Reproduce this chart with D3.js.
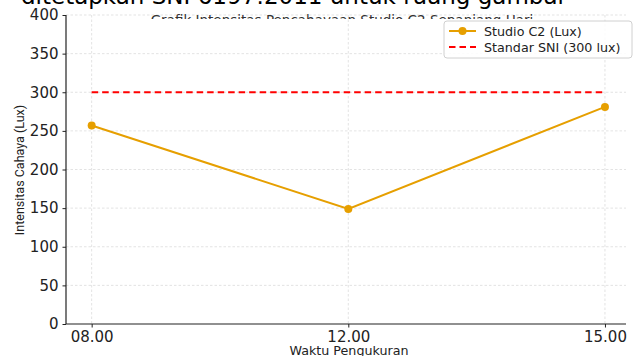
<!DOCTYPE html>
<html>
<head>
<meta charset="utf-8">
<script src="https://cdn.jsdelivr.net/npm/d3@7"></script>
<style>
  body { margin: 0; background: #fff; }
  svg { display: block; font-family: "DejaVu Sans", sans-serif; }
</style>
</head>
<body>
<svg width="640" height="356"></svg>
<script>
// data
const times = ['08.00', '12.00', '15.00'];
const luxValues = [257, 149, 281];
const sniStandard = 300;
const yTicks = [0, 50, 100, 150, 200, 250, 300, 350, 400];
const legendLabels = ['Studio C2 (Lux)', 'Standar SNI (300 lux)'];

const orange = '#e69f00';
const svg = d3.select('svg');

const x = d3.scaleLinear().domain([-0.1, 2.082]).range([66, 626]);
const y = d3.scaleLinear().domain([0, 400]).range([324, 15]);

// grid
const grid = svg.append('g').attr('stroke', '#dcdcdc').attr('stroke-width', 0.8)
  .attr('stroke-dasharray', '2.5,2');
grid.selectAll('.hg').data(yTicks.slice(1)).enter().append('line')
  .attr('x1', 66).attr('x2', 626)
  .attr('y1', d => y(d)).attr('y2', d => y(d));
grid.selectAll('.vg').data(times).enter().append('line')
  .attr('x1', (d, i) => x(i)).attr('x2', (d, i) => x(i))
  .attr('y1', 15).attr('y2', 324);

// axes
const yAxis = svg.append('g').attr('transform', 'translate(66,0)')
  .call(d3.axisLeft(y).tickValues(yTicks).tickSize(3.5).tickPadding(4));
const xAxis = svg.append('g').attr('transform', 'translate(0,324)')
  .call(d3.axisBottom(x).tickValues([0, 1, 2]).tickFormat(i => times[i]).tickSize(3.5).tickPadding(4));
[yAxis, xAxis].forEach(a => {
  a.selectAll('text').attr('font-size', 15).attr('fill', '#222')
    .attr('font-family', '"DejaVu Sans", sans-serif');
  a.select('.domain').attr('stroke', '#222').attr('stroke-width', 1.2);
  a.selectAll('.tick line').attr('stroke', '#222');
});
// matplotlib-style spine: only left + bottom, no outer tick ends
yAxis.select('.domain').attr('d', 'M0,15V324');
xAxis.select('.domain').attr('d', 'M66,0H626');

// SNI reference line
svg.append('line')
  .attr('x1', x(0)).attr('x2', x(2))
  .attr('y1', y(sniStandard)).attr('y2', y(sniStandard))
  .attr('stroke', '#ff0000').attr('stroke-width', 1.8).attr('stroke-dasharray', '6.5,4');

// measured line
svg.append('path')
  .datum(luxValues)
  .attr('fill', 'none').attr('stroke', orange).attr('stroke-width', 2)
  .attr('d', d3.line().x((d, i) => x(i)).y(d => y(d)));
svg.selectAll('.pt').data(luxValues).enter().append('circle')
  .attr('cx', (d, i) => x(i)).attr('cy', d => y(d)).attr('r', 4).attr('fill', orange);

// legend
const lg = svg.append('g').attr('transform', 'translate(444,21)');
lg.append('rect').attr('width', 188).attr('height', 37).attr('rx', 3)
  .attr('fill', 'rgba(255,255,255,0.85)').attr('stroke', '#d0d0d0');
lg.append('line').attr('x1', 5).attr('x2', 32).attr('y1', 10).attr('y2', 10)
  .attr('stroke', orange).attr('stroke-width', 2);
lg.append('circle').attr('cx', 18.5).attr('cy', 10).attr('r', 4).attr('fill', orange);
lg.append('line').attr('x1', 5).attr('x2', 32).attr('y1', 26).attr('y2', 26)
  .attr('stroke', '#ff0000').attr('stroke-width', 1.8).attr('stroke-dasharray', '6.5,4');
lg.selectAll('.lt').data(legendLabels).enter().append('text')
  .attr('x', 40).attr('y', (d, i) => 14.5 + i * 16)
  .attr('font-size', 12.7).attr('fill', '#222').text(d => d);

// axis labels
svg.append('text').attr('x', 349).attr('y', 355).attr('text-anchor', 'middle')
  .attr('font-size', 12.7).attr('fill', '#222').text('Waktu Pengukuran');
svg.append('text').attr('transform', 'translate(24,170) rotate(-90)').attr('text-anchor', 'middle')
  .attr('font-size', 12.5).attr('fill', '#222')
  .attr('font-family', '"Liberation Sans Narrow", "Roboto", sans-serif')
  .text('Intensitas Cahaya (Lux)');

// titles (cropped at the top, as in the picture)
svg.append('clipPath').attr('id', 'subclip').append('rect')
  .attr('x', 0).attr('y', 14).attr('width', 640).attr('height', 5);
svg.append('text').attr('x', 342).attr('y', 25).attr('text-anchor', 'middle')
  .attr('clip-path', 'url(#subclip)')
  .attr('font-size', 13.5).attr('fill', '#333')
  .text('Grafik Intensitas Pencahayaan Studio C2 Sepanjang Hari');
svg.append('text').attr('x', 294).attr('y', 4).attr('text-anchor', 'middle')
  .attr('font-size', 23).attr('fill', '#000')
  .text('ditetapkan SNI 6197:2011 untuk ruang gambar');
</script>
</body>
</html>
